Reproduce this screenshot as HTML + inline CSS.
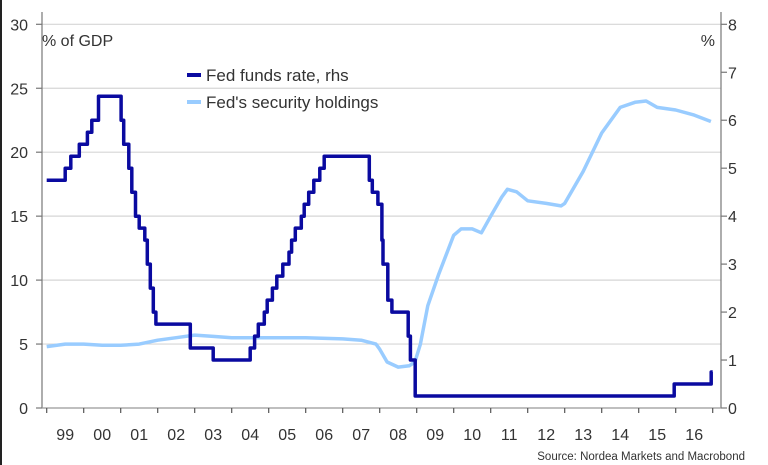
<!DOCTYPE html>
<html><head><meta charset="utf-8"><style>
body{margin:0;background:#fff;}
svg{display:block;font-family:"Liberation Sans","DejaVu Sans",sans-serif;}
</style></head><body>
<svg id="chart" width="768" height="465">
<line x1="1" y1="0" x2="1" y2="465" stroke="#222" stroke-width="2"/>
<g id="grid"></g>
<g id="axes"></g>
<g id="series"></g>
<text x="42" y="46" font-size="16" fill="#333">% of GDP</text>
<text x="715" y="46" font-size="16" fill="#333" text-anchor="end">%</text>
<g>
<line x1="187" y1="75" x2="201" y2="75" stroke="#0a0aa0" stroke-width="4"/>
<text x="206" y="81" font-size="17" fill="#333">Fed funds rate, rhs</text>
<line x1="187" y1="102" x2="201" y2="102" stroke="#99ccff" stroke-width="4"/>
<text x="206" y="108" font-size="17" fill="#333">Fed's security holdings</text>
</g>
<text x="745" y="460" font-size="11.5" fill="#333" text-anchor="end">Source: Nordea Markets and Macrobond</text>
</svg>
<script>
const yearLabels=["99","00","01","02","03","04","05","06","07","08","09","10","11","12","13","14","15","16"];
const leftTicks=[0,5,10,15,20,25,30];
const rightTicks=[0,1,2,3,4,5,6,7,8];
const ffDates=[1999.0,1999.5,1999.65,1999.88,2000.1,2000.22,2000.4,2001.01,2001.08,2001.22,2001.3,2001.4,2001.5,2001.65,2001.72,2001.8,2001.88,2001.95,2002.88,2003.5,2004.5,2004.62,2004.72,2004.88,2004.96,2005.1,2005.22,2005.38,2005.55,2005.62,2005.72,2005.88,2005.96,2006.08,2006.22,2006.38,2006.5,2007.72,2007.8,2007.95,2008.06,2008.09,2008.22,2008.33,2008.77,2008.83,2008.96,2015.96,2016.96,2017.0];
const ffValues=[4.75,5.0,5.25,5.5,5.75,6.0,6.5,6.0,5.5,5.0,4.5,4.0,3.75,3.5,3.0,2.5,2.0,1.75,1.25,1.0,1.25,1.5,1.75,2.0,2.25,2.5,2.75,3.0,3.25,3.5,3.75,4.0,4.25,4.5,4.75,5.0,5.25,4.75,4.5,4.25,3.5,3.0,2.25,2.0,1.5,1.0,0.25,0.5,0.75,0.75];
const hdDates=[1999.0,1999.5,2000.0,2000.5,2001.0,2001.5,2002.0,2002.5,2003.0,2003.5,2004.0,2005.0,2006.0,2007.0,2007.5,2007.9,2008.0,2008.2,2008.5,2008.8,2008.95,2009.1,2009.3,2009.6,2009.8,2010.0,2010.2,2010.5,2010.75,2011.0,2011.3,2011.45,2011.7,2012.0,2012.5,2012.9,2013.0,2013.2,2013.5,2014.0,2014.5,2014.9,2015.2,2015.5,2016.0,2016.5,2016.95];
const hdValues=[4.8,5.0,5.0,4.9,4.9,5.0,5.3,5.5,5.7,5.6,5.5,5.5,5.5,5.4,5.3,5.0,4.6,3.6,3.2,3.3,3.6,5.0,8.0,10.5,12.0,13.5,14.0,14.0,13.7,15.0,16.5,17.1,16.9,16.2,16.0,15.8,16.0,17.0,18.5,21.5,23.5,23.9,24.0,23.5,23.3,22.9,22.4];
const NS="http://www.w3.org/2000/svg";
const x0=46.7,yw=37,yBase=408;
const xs=d=>x0+(d-1999)*yw;
const yl=v=>yBase-v*(383.7/30);
const yr=v=>yBase-v*(383.7/8);
function mk(tag,attrs,parent){const e=document.createElementNS(NS,tag);for(const k in attrs)e.setAttribute(k,attrs[k]);parent.appendChild(e);return e;}
const grid=document.getElementById('grid'),axes=document.getElementById('axes'),ser=document.getElementById('series');
leftTicks.forEach(v=>{
 if(v>0){const g=mk('line',{x1:42,x2:721,y1:yl(v),y2:yl(v),stroke:'#d6d6d6','stroke-width':1.2},grid);
 
 }
 const t=mk('text',{x:28,y:yl(v)+6,'font-size':16,fill:'#333','text-anchor':'end'},axes);t.textContent=v;
 
 
 mk('line',{x1:36,x2:42,y1:yl(v),y2:yl(v),stroke:'#777','stroke-width':1.2},axes);
});
rightTicks.forEach(v=>{
 const t=mk('text',{x:728,y:yr(v)+6,'font-size':16,fill:'#333'},axes);t.textContent=v;
 
 
 mk('line',{x1:721,x2:727,y1:yr(v),y2:yr(v),stroke:'#777','stroke-width':1.2},axes);
});
const la=mk('line',{x1:42,x2:42,y1:12,y2:408,stroke:'#777','stroke-width':1.2},axes);


const ra=mk('line',{x1:721,x2:721,y1:12,y2:408,stroke:'#777','stroke-width':1.2},axes);


const xa=mk('line',{x1:42,x2:721,y1:408,y2:408,stroke:'#999','stroke-width':1.2},axes);


for(let i=0;i<=yearLabels.length;i++){mk('line',{x1:xs(1999+i),x2:xs(1999+i),y1:408,y2:413,stroke:'#555','stroke-width':1.2},axes);}
yearLabels.forEach((l,i)=>{const t=mk('text',{x:xs(1999.5+i),y:440,'font-size':16,fill:'#333','text-anchor':'middle'},axes);t.textContent=l;
 
 });
let hp=hdDates.map((d,i)=>xs(d).toFixed(1)+','+yl(hdValues[i]).toFixed(1)).join(' ');
const hl=mk('polyline',{points:hp,fill:'none',stroke:'#99ccff','stroke-width':3.5,'stroke-linejoin':'round'},ser);


let fp=[];ffDates.forEach((d,i)=>{if(i>0)fp.push(xs(d).toFixed(1)+','+yr(ffValues[i-1]).toFixed(1));fp.push(xs(d).toFixed(1)+','+yr(ffValues[i]).toFixed(1));});
const fl=mk('polyline',{points:fp.join(' '),fill:'none',stroke:'#0a0aa0','stroke-width':3.5,'stroke-linejoin':'round'},ser);


</script>
</body></html>
